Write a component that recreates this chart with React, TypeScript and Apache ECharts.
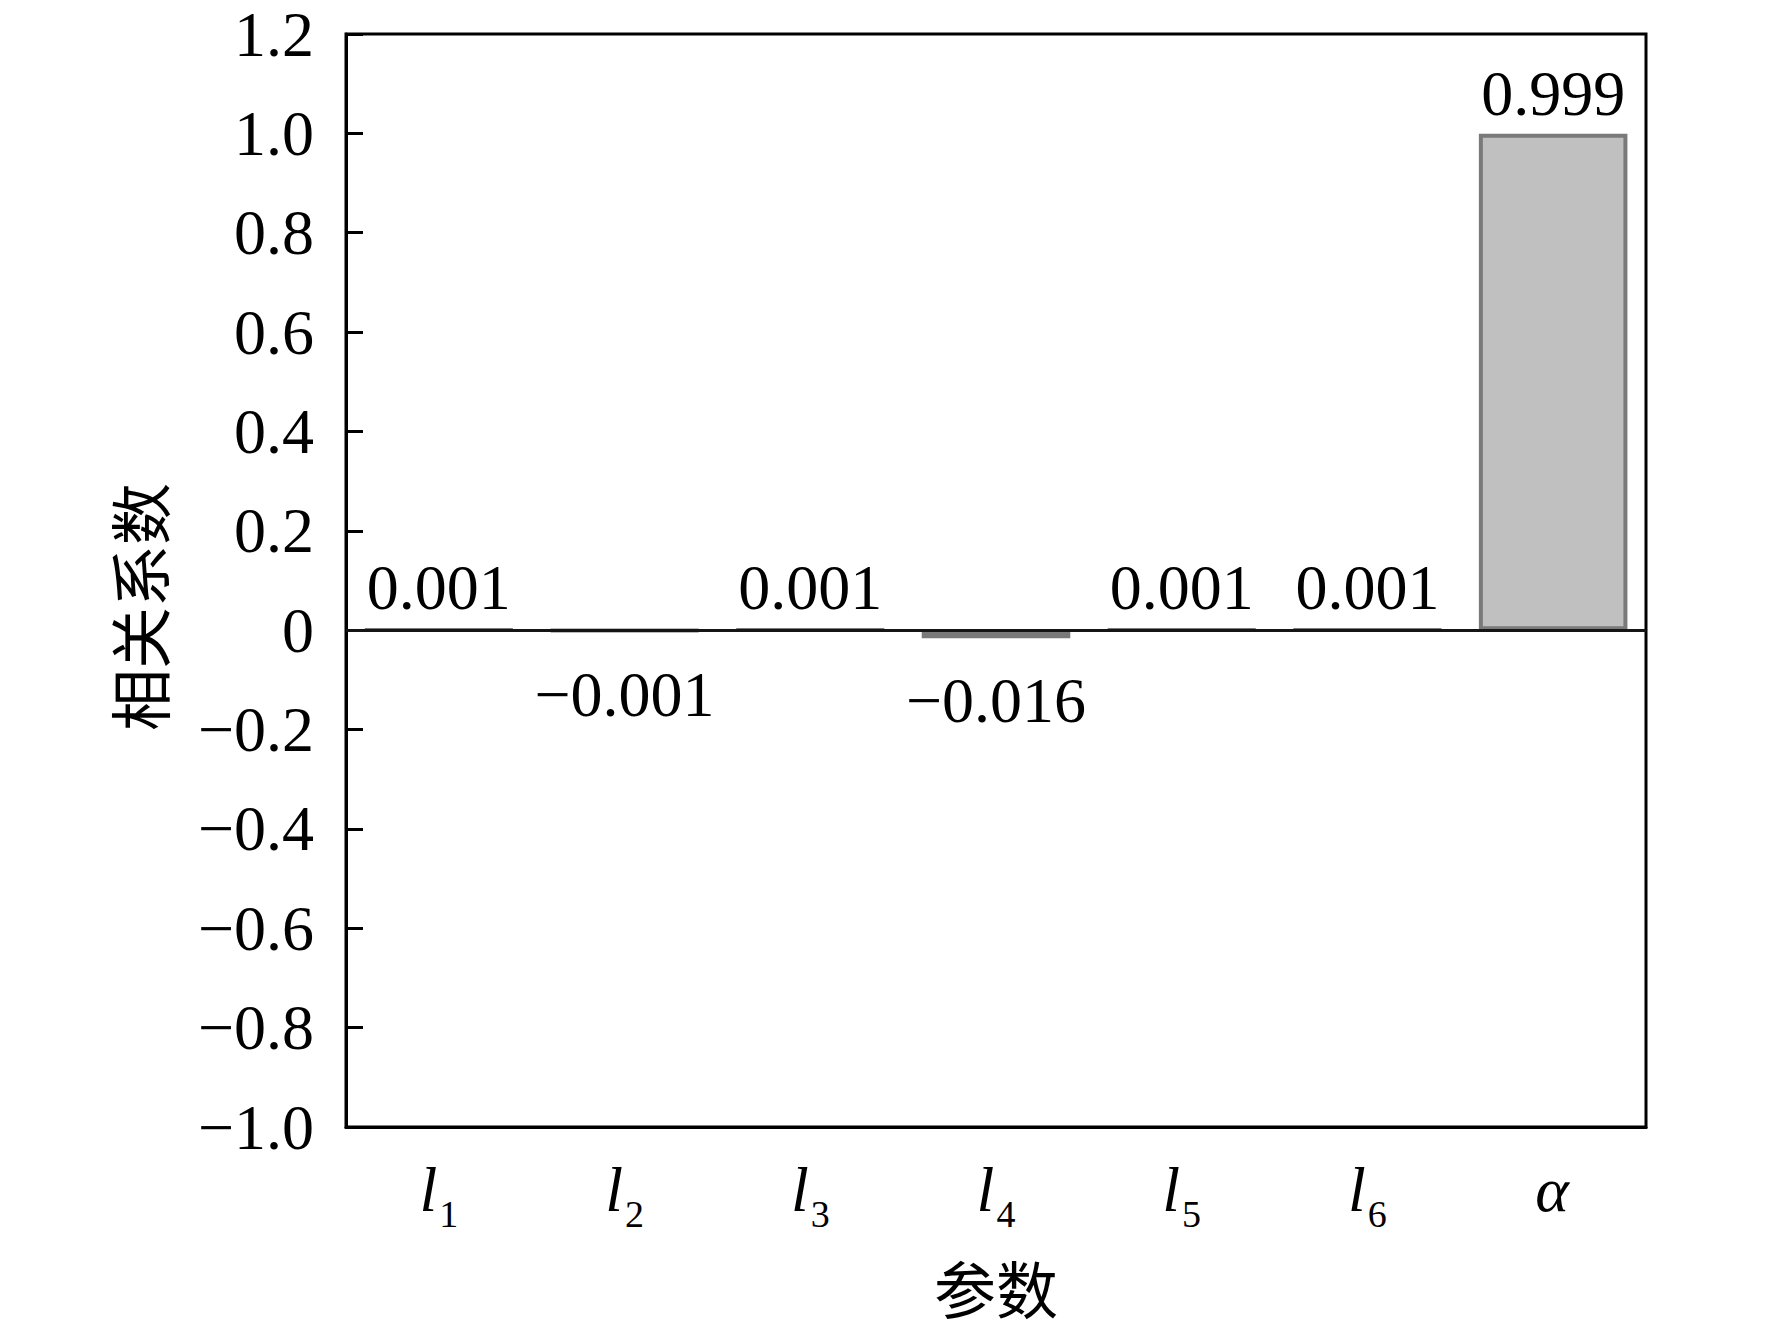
import React, { useEffect, useRef } from "react";
import * as echarts from "echarts";

const categories = ["l1", "l2", "l3", "l4", "l5", "l6", "α"];
const values = [0.001, -0.001, 0.001, -0.016, 0.001, 0.001, 0.999];
const yMin = -1.0;
const yMax = 1.2;
const yStep = 0.2;
const xName = "参数";
const yName = "相关系数";

const SERIF = "'Liberation Serif', 'Times New Roman', serif";
const CJK = "'Noto Sans CJK SC', sans-serif";

const minus = (s: string) => s.replace("-", "\u2212");

export default function App() {
  const ref = useRef<HTMLDivElement>(null);
  useEffect(() => {
    if (!ref.current) return;
    const chart = echarts.init(ref.current, null, { renderer: "svg" });
    chart.setOption({
      animation: false,
      backgroundColor: "#ffffff",
      grid: {
        left: 346,
        right: 126,
        top: 34,
        bottom: 204,
        outerBoundsMode: "none",
        containLabel: false,
        show: true,
        borderColor: "#000",
        borderWidth: 3,
        backgroundColor: "transparent",
      },
      xAxis: {
        type: "category",
        data: categories,
        name: xName,
        nameLocation: "middle",
        nameGap: 128,
        nameTextStyle: { fontFamily: CJK, fontSize: 62, lineHeight: 64, color: "#000" },
        axisLine: { onZero: false, lineStyle: { color: "#000", width: 3 } },
        axisTick: { inside: true, alignWithLabel: true, length: 17, lineStyle: { color: "#000", width: 3 } },
        axisLabel: {
          margin: 30,
          formatter: (v: string) => {
            if (v.startsWith("l")) return `{i|l}{s|${v.slice(1)}}`;
            return `{i|${v}}`;
          },
          rich: {
            i: { fontFamily: SERIF, fontStyle: "italic", fontSize: 64, color: "#000", verticalAlign: "bottom", padding: [0, 2, 12, 0] },
            s: { fontFamily: SERIF, fontSize: 38, color: "#000", verticalAlign: "bottom" },
          },
        },
        splitLine: { show: false },
      },
      yAxis: {
        type: "value",
        min: yMin,
        max: yMax,
        interval: yStep,
        axisLine: { show: true, lineStyle: { color: "#000", width: 3 } },
        axisTick: { show: true, inside: true, length: 17, lineStyle: { color: "#000", width: 3 } },
        axisLabel: {
          margin: 32,
          fontFamily: SERIF,
          fontSize: 64,
          color: "#000",
          formatter: (v: number) => {
            const r = Math.round(v * 10) / 10;
            if (Math.abs(r) < 1e-9) return "0";
            return minus(r.toFixed(1));
          },
        },
        splitLine: { show: false },
      },
      graphic: [
        {
          type: "text",
          x: 138,
          y: 607,
          rotation: Math.PI / 2,
          style: {
            text: yName,
            fontFamily: CJK,
            fontSize: 62,
            fill: "#000",
            align: "center",
            verticalAlign: "middle",
          },
        },
      ],
      series: [
        {
          type: "bar",
          data: values.map((v) => ({
            value: v,
            label: {
              show: true,
              position: v < 0 ? "bottom" : "top",
              distance: v < 0 ? 30 : 8,
            },
          })),
          barWidth: "80%",
          itemStyle: { color: "#c0c0c0", borderColor: "#7a7a7a", borderWidth: 4 },
          label: {
            show: true,
            fontFamily: SERIF,
            fontSize: 64,
            color: "#000",
            formatter: (p: any) => minus(Number(p.value).toFixed(3)),
          },
          markLine: {
            silent: true,
            symbol: "none",
            label: { show: false },
            lineStyle: { color: "#151515", width: 3, type: "solid" },
            data: [{ yAxis: 0 }],
          },
        },
      ],
    });
    return () => chart.dispose();
  }, []);
  return (
    <div
      ref={ref}
      style={{ position: "fixed", left: 0, top: 0, width: 1772, height: 1331, background: "#fff" }}
    />
  );
}
